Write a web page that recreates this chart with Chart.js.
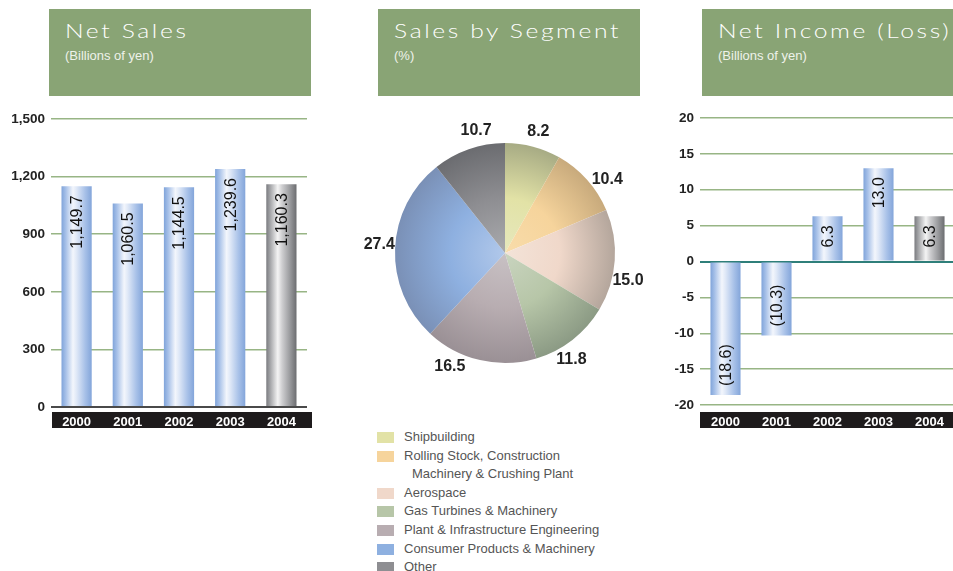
<!DOCTYPE html>
<html>
<head>
<meta charset="utf-8">
<script src="https://cdn.jsdelivr.net/npm/chart.js@4.4.1/dist/chart.umd.min.js"></script>
<style>
  html, body { margin: 0; padding: 0; background: #fff; }
  body { width: 953px; height: 571px; overflow: hidden; position: relative;
         font-family: "Liberation Sans", Arial, Helvetica, sans-serif; }
  .hdr { position: absolute; top: 9px; height: 87px; background: #89a475; color: #fff; overflow: hidden; }
  .hdr .t { position: absolute; left: 16px; top: 10px; font-family: Lato, "DejaVu Sans", sans-serif;
            font-weight: 300; font-size: 19px; letter-spacing: 2px; white-space: nowrap;
            transform-origin: 0 0; transform: scaleX(1.3); }
  .hdr .s { position: absolute; left: 16px; top: 39px; font-size: 13px; color: #eef2ea; white-space: nowrap; }
  canvas { position: absolute; }
  #legend { position: absolute; left: 377px; top: 428px; font-size: 13px; color: #555; }
  #legend .row { position: relative; height: 18.6px; line-height: 18.6px; padding-left: 27px; white-space: nowrap; }
  #legend .row.cont { padding-left: 35px; }
  #legend .sw { position: absolute; left: 0; top: 4px; width: 17px; height: 11px; }
</style>
</head>
<body>

<div class="hdr" style="left:49px;width:262px;"><div class="t">Net Sales</div><div class="s">(Billions of yen)</div></div>
<div class="hdr" style="left:378px;width:262px;"><div class="t">Sales by Segment</div><div class="s">(%)</div></div>
<div class="hdr" style="left:702px;width:260px;"><div class="t">Net Income (Loss)</div><div class="s">(Billions of yen)</div></div>

<canvas id="sales" width="312" height="330" style="left:0;top:100px;"></canvas>
<canvas id="segments" width="290" height="310" style="left:360px;top:100px;"></canvas>
<canvas id="income" width="310" height="330" style="left:650px;top:100px;"></canvas>
<div id="legend"></div>

<script>
// Fiscal years shown on both bar charts
const years = ['2000', '2001', '2002', '2003', '2004'];

// Net sales, billions of yen
const netSales = [1149.7, 1060.5, 1144.5, 1239.6, 1160.3];
const salesTicks = [0, 300, 600, 900, 1200, 1500];

// Net income (loss), billions of yen
const netIncome = [-18.6, -10.3, 6.3, 13.0, 6.3];
const incomeTicks = [-20, -15, -10, -5, 0, 5, 10, 15, 20];

// Sales by segment, percent
const segments = [
  'Shipbuilding',
  'Rolling Stock, Construction\nMachinery & Crushing Plant',
  'Aerospace',
  'Gas Turbines & Machinery',
  'Plant & Infrastructure Engineering',
  'Consumer Products & Machinery',
  'Other'
];
const segmentShare = [8.2, 10.4, 15.0, 11.8, 16.5, 27.4, 10.7];

// Segment colours: flat swatch, light centre, dark rim
const segFlat  = ['#e2e2a6', '#f6d49c', '#f0d8ca', '#b7c6a8', '#b8adb1', '#8eb0e0', '#8e8e92'];
const segLight = ['#e6e8bd', '#f8dcaa', '#f3e3d8', '#c9d4bf', '#c8c1c4', '#b1c8ea', '#a9aaad'];
const segDark  = ['#a7ab84', '#c8aa7c', '#b4a69c', '#8b9a84', '#9a9095', '#7a90b6', '#6b6c70'];

const BLUE_STOPS = [[0, '#80a4da'], [0.14, '#a6c0e8'], [0.38, '#f3f6fc'], [0.5, '#dfe8f7'], [0.78, '#a8c1e8'], [1, '#83a5da']];
const GREY_STOPS = [[0, '#7a7b7f'], [0.14, '#a7a8ab'], [0.38, '#f4f4f4'], [0.52, '#cfcfd1'], [0.8, '#96979a'], [1, '#6c6d70']];
const BAR_PCT = 0.59;

// Cylinder-like shading across each bar; the latest year is drawn in grey
function barFill(ctx) {
  const chart = ctx.chart;
  const x = chart.scales.x;
  const last = ctx.dataIndex === chart.data.labels.length - 1;
  const stops = last ? GREY_STOPS : BLUE_STOPS;
  if (!x || !chart.chartArea) return stops[2][1];
  const cx = x.getPixelForValue(ctx.dataIndex);
  const w = (x.width / chart.data.labels.length) * BAR_PCT;
  const g = chart.ctx.createLinearGradient(cx - w / 2, 0, cx + w / 2, 0);
  stops.forEach(s => g.addColorStop(s[0], s[1]));
  return g;
}

function fmtValue(v) {
  const s = Math.abs(v).toLocaleString('en-US', { minimumFractionDigits: 1, maximumFractionDigits: 1 });
  return v < 0 ? '(' + s + ')' : s;
}

// Vertical value labels inside each bar, near its far end
const barValueLabels = {
  id: 'barValueLabels',
  afterDatasetsDraw(chart) {
    const c = chart.ctx;
    const meta = chart.getDatasetMeta(0);
    const data = chart.data.datasets[0].data;
    c.save();
    c.font = '16px "Liberation Sans", Arial, sans-serif';
    c.fillStyle = '#111';
    c.textBaseline = 'middle';
    meta.data.forEach((bar, i) => {
      const v = data[i];
      c.save();
      if (v >= 0) {
        c.translate(bar.x, bar.y + 9);
        c.rotate(-Math.PI / 2);
        c.textAlign = 'right';
      } else {
        c.translate(bar.x, bar.y - 9);
        c.rotate(-Math.PI / 2);
        c.textAlign = 'left';
      }
      c.fillText(fmtValue(v), 0, 1);
      c.restore();
    });
    c.restore();
  }
};

// Black strip behind the year labels
const yearBand = {
  id: 'yearBand',
  beforeDraw(chart, args, opts) {
    const a = chart.chartArea;
    const c = chart.ctx;
    c.save();
    c.fillStyle = '#1e1b1c';
    c.fillRect(a.left + (opts.inset || 0), chart.height - 18, a.right - a.left + (opts.extra || 0), 16);
    c.restore();
  }
};

function barChart(id, values, ticks, opts) {
  return new Chart(document.getElementById(id), {
    type: 'bar',
    data: {
      labels: years,
      datasets: [{ data: values, backgroundColor: barFill, borderWidth: 0,
                   barPercentage: BAR_PCT, categoryPercentage: 1 }]
    },
    options: {
      responsive: false,
      animation: false,
      devicePixelRatio: 1,
      layout: { padding: { top: opts.padTop, right: opts.padRight, left: 0, bottom: 0 } },
      plugins: { legend: { display: false }, tooltip: { enabled: false },
                 yearBand: { inset: opts.bandInset, extra: opts.bandExtra } },
      scales: {
        x: {
          grid: { display: false, drawTicks: false, tickLength: 0 },
          border: { display: false },
          ticks: { color: '#fff', font: { family: '"Liberation Sans", Arial, sans-serif', size: 13, weight: 'bold' },
                   padding: opts.tickPad, maxRotation: 0 },
          afterFit(s) { s.height = opts.xHeight; }
        },
        y: {
          min: ticks[0], max: ticks[ticks.length - 1],
          afterBuildTicks(s) { s.ticks = ticks.map(v => ({ value: v })); },
          grid: {
            drawTicks: false,
            color: c => c.tick && c.tick.value === 0 ? opts.zeroColor : '#98b585',
            lineWidth: c => c.tick && c.tick.value === 0 ? 2 : 1.5
          },
          border: { display: false },
          ticks: { color: '#222', padding: 6,
                   font: { family: '"Liberation Sans", Arial, sans-serif', size: 13.5, weight: 'bold' },
                   callback: v => v.toLocaleString('en-US') },
          afterFit(s) { s.width = opts.yWidth; }
        }
      }
    },
    plugins: [yearBand, barValueLabels]
  });
}

barChart('sales', netSales, salesTicks,
  { padTop: 19, padRight: 5, xHeight: 23, yWidth: 51, tickPad: 8, zeroColor: '#4a4a4a', bandInset: 1, bandExtra: 4 });
barChart('income', netIncome, incomeTicks,
  { padTop: 18, padRight: 5, xHeight: 25, yWidth: 50, tickPad: 10, zeroColor: '#2f7f7a', bandInset: 0, bandExtra: 0 });

// Percentage labels around the pie
const pieLabels = {
  id: 'pieLabels',
  afterDatasetsDraw(chart, args, opts) {
    const c = chart.ctx;
    const meta = chart.getDatasetMeta(0);
    const data = chart.data.datasets[0].data;
    c.save();
    c.font = 'bold 16px "Liberation Sans", Arial, sans-serif';
    c.fillStyle = '#222';
    c.textAlign = 'center';
    c.textBaseline = 'middle';
    meta.data.forEach((arc, i) => {
      const nudge = (opts.nudge[i] || 0) * Math.PI / 180;
      const mid = (arc.startAngle + arc.endAngle) / 2 + nudge;
      const r = arc.outerRadius + opts.gap;
      c.fillText(data[i].toFixed(1), arc.x + r * Math.cos(mid), arc.y + r * Math.sin(mid));
    });
    c.restore();
  }
};

function sliceFill(ctx) {
  const chart = ctx.chart;
  const a = chart.chartArea;
  const i = ctx.dataIndex;
  if (!a) return segFlat[i];
  const cx = (a.left + a.right) / 2, cy = (a.top + a.bottom) / 2;
  const R = Math.min(a.right - a.left, a.bottom - a.top) / 2;
  const g = chart.ctx.createRadialGradient(cx, cy, 0, cx, cy, R);
  g.addColorStop(0, segLight[i]);
  g.addColorStop(0.5, segFlat[i]);
  g.addColorStop(1, segDark[i]);
  return g;
}

const pie = new Chart(document.getElementById('segments'), {
  type: 'pie',
  data: {
    labels: segments,
    datasets: [{ data: segmentShare, backgroundColor: sliceFill, borderWidth: 0 }]
  },
  options: {
    responsive: false,
    animation: false,
    devicePixelRatio: 1,
    layout: { padding: { left: 35, right: 35, top: 43, bottom: 47 } },
    plugins: { legend: { display: false }, tooltip: { enabled: false },
               pieLabels: { gap: 16, nudge: [0.6, 6, 8.5, 6, 12.8, 1.5, 6] } }
  },
  plugins: [pieLabels]
});

// Legend below the pie, built from the chart's own labels
const legend = document.getElementById('legend');
pie.data.labels.forEach((label, i) => {
  label.split('\n').forEach((line, j) => {
    const row = document.createElement('div');
    row.className = j === 0 ? 'row' : 'row cont';
    if (j === 0) {
      const sw = document.createElement('span');
      sw.className = 'sw';
      sw.style.background = segFlat[i];
      row.appendChild(sw);
    }
    row.appendChild(document.createTextNode(line));
    legend.appendChild(row);
  });
});
</script>
</body>
</html>
